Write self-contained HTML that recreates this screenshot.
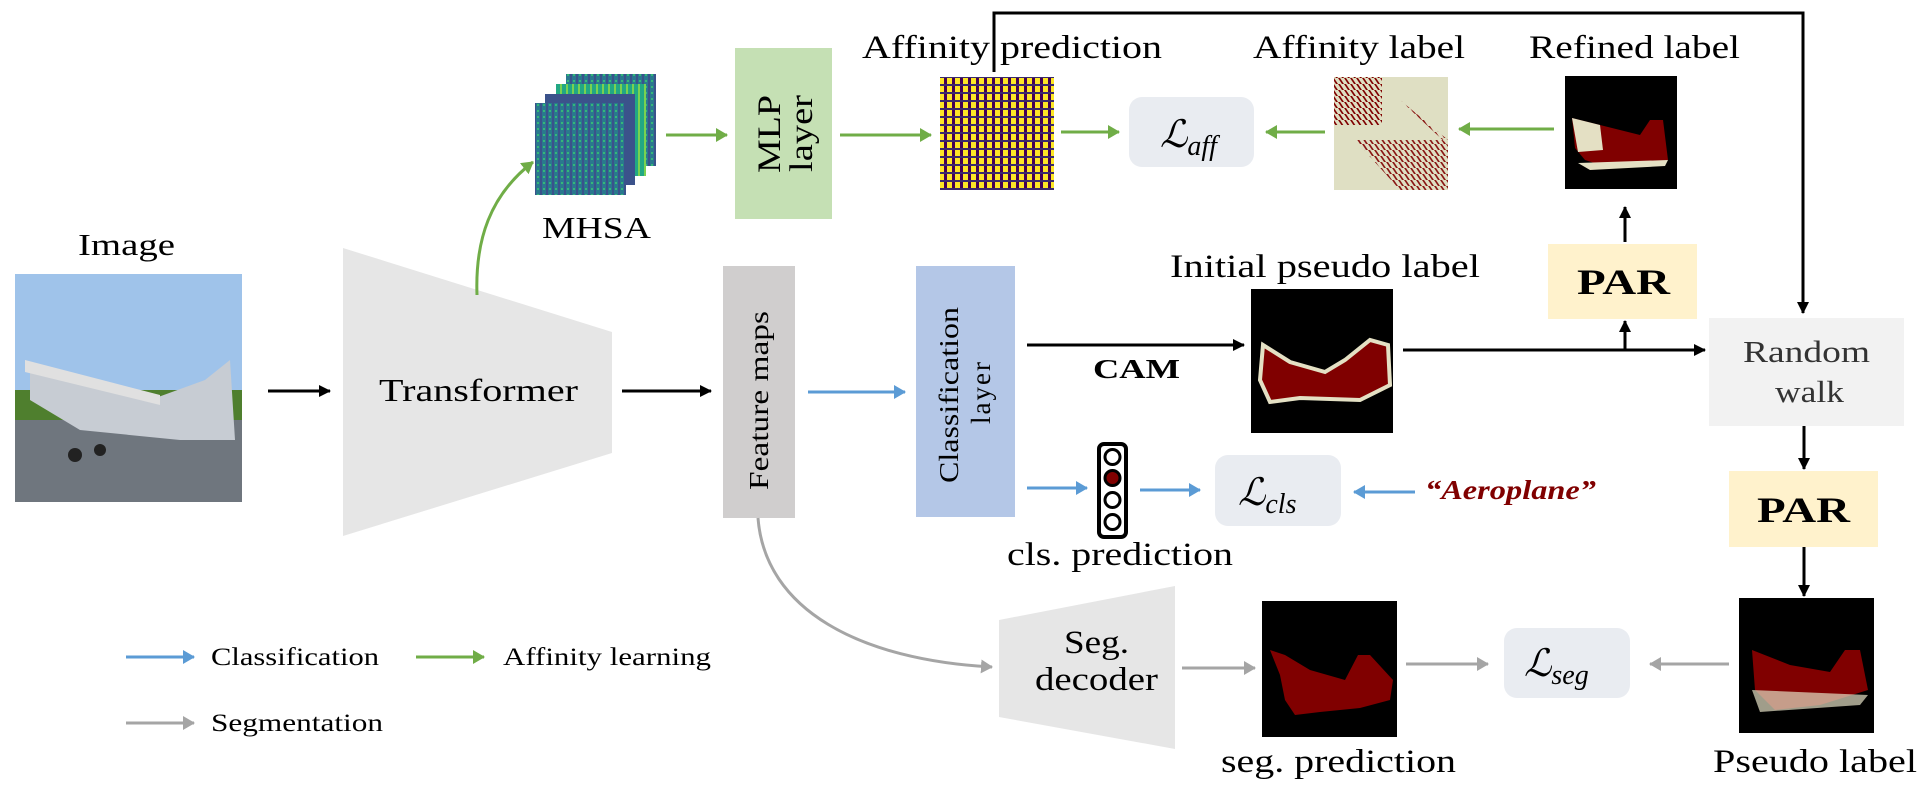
<!DOCTYPE html>
<html><head><meta charset="utf-8"><style>
html,body{margin:0;padding:0;background:#fff;}
svg{display:block;}
text{font-family:"Liberation Serif",serif;fill:#000;}
</style></head><body>
<svg width="1928" height="801" viewBox="0 0 1928 801" xmlns="http://www.w3.org/2000/svg">
<defs>
<marker id="ak" markerWidth="12" markerHeight="12" refX="11" refY="6" orient="auto" markerUnits="userSpaceOnUse"><path d="M0,0 L12,6 L0,12 z" fill="#000"/></marker>
<marker id="ag" markerWidth="12" markerHeight="14" refX="11" refY="7" orient="auto" markerUnits="userSpaceOnUse"><path d="M0,0 L12,7 L0,14 z" fill="#70ad47"/></marker>
<marker id="ab" markerWidth="12" markerHeight="14" refX="11" refY="7" orient="auto" markerUnits="userSpaceOnUse"><path d="M0,0 L12,7 L0,14 z" fill="#5b9bd5"/></marker>
<marker id="ay" markerWidth="12" markerHeight="14" refX="11" refY="7" orient="auto" markerUnits="userSpaceOnUse"><path d="M0,0 L12,7 L0,14 z" fill="#a5a5a5"/></marker>
<pattern id="vir" width="6" height="6" patternUnits="userSpaceOnUse"><rect width="6" height="6" fill="#2a788e"/><rect x="0" width="2" height="6" fill="#3b528b"/><rect x="3" y="2" width="2" height="2" fill="#35b779"/></pattern>
<pattern id="vir2" width="6" height="6" patternUnits="userSpaceOnUse"><rect width="6" height="6" fill="#22a884"/><rect x="2" width="2" height="6" fill="#7ad151"/></pattern>
<pattern id="aff" width="8" height="8" patternUnits="userSpaceOnUse"><rect width="8" height="8" fill="#fde725"/><rect width="3" height="8" fill="#440154"/><rect y="4" width="8" height="2" fill="#3b2a6b"/></pattern>
<pattern id="lab" width="6" height="6" patternUnits="userSpaceOnUse"><rect width="6" height="6" fill="#dfdfc3"/><path d="M0,0 L4,6 L6,6 L2,0z" fill="#800000"/></pattern>
</defs>

<!-- Image -->
<text x="78" y="255" font-size="31" textLength="97" lengthAdjust="spacingAndGlyphs">Image</text>
<rect x="15" y="274" width="227" height="228" fill="#9fc3ea"/>
<rect x="15" y="390" width="227" height="32" fill="#4f7f2e"/>
<rect x="15" y="420" width="227" height="82" fill="#6f767e"/>
<path d="M30,370 L150,400 L205,380 L230,360 L235,440 L180,440 L80,430 L30,400z" fill="#c7ccd3"/>
<path d="M25,360 L160,395 L160,405 L25,372z" fill="#e0e0e0"/>
<circle cx="75" cy="455" r="7" fill="#222"/><circle cx="100" cy="450" r="6" fill="#222"/>
<line x1="268" y1="391" x2="330" y2="391" stroke="#000" stroke-width="3" marker-end="url(#ak)"/>

<!-- Transformer -->
<polygon points="343,248 612,332 612,453 343,536" fill="#e6e6e6"/>
<text x="379" y="401" font-size="32" textLength="199" lengthAdjust="spacingAndGlyphs">Transformer</text>
<path d="M477,295 C475,240 490,195 533,162" fill="none" stroke="#70ad47" stroke-width="3" marker-end="url(#ag)"/>
<line x1="622" y1="391" x2="711" y2="391" stroke="#000" stroke-width="3" marker-end="url(#ak)"/>

<!-- MHSA -->
<rect x="566" y="74" width="90" height="92" fill="url(#vir)"/>
<rect x="556" y="84" width="90" height="92" fill="url(#vir2)"/>
<rect x="545" y="94" width="90" height="91" fill="#3b528b"/>
<rect x="535" y="103" width="91" height="92" fill="url(#vir)"/>
<text x="542" y="238" font-size="31" textLength="109" lengthAdjust="spacingAndGlyphs">MHSA</text>
<line x1="666" y1="135" x2="727" y2="135" stroke="#70ad47" stroke-width="3" marker-end="url(#ag)"/>

<!-- MLP -->
<rect x="735" y="48" width="97" height="171" fill="#c5e0b4"/>
<text transform="translate(780,173) rotate(-90)" font-size="33" textLength="78" lengthAdjust="spacingAndGlyphs">MLP</text>
<text transform="translate(812,172) rotate(-90)" font-size="33" textLength="77" lengthAdjust="spacingAndGlyphs">layer</text>
<line x1="840" y1="135" x2="931" y2="135" stroke="#70ad47" stroke-width="3" marker-end="url(#ag)"/>

<!-- Affinity prediction -->
<text x="862" y="58" font-size="33" textLength="300" lengthAdjust="spacingAndGlyphs">Affinity prediction</text>
<rect x="940" y="77" width="114" height="113" fill="url(#aff)"/>
<polyline points="994,72 994,13 1803,13 1803,313" fill="none" stroke="#000" stroke-width="3" marker-end="url(#ak)"/>
<line x1="1061" y1="132" x2="1119" y2="132" stroke="#70ad47" stroke-width="3" marker-end="url(#ag)"/>
<rect x="1129" y="97" width="125" height="70" rx="13" fill="#e9ecf1"/>
<text x="1160" y="147" font-size="38" font-style="italic">ℒ<tspan font-size="28" dy="8">aff</tspan></text>
<line x1="1325" y1="132" x2="1266" y2="132" stroke="#70ad47" stroke-width="3" marker-end="url(#ag)"/>

<!-- Affinity label -->
<text x="1253" y="58" font-size="33" textLength="212" lengthAdjust="spacingAndGlyphs">Affinity label</text>
<rect x="1334" y="77" width="114" height="113" fill="#dfdfc3"/>
<rect x="1334" y="77" width="48" height="48" fill="url(#lab)"/>
<polygon points="1400,100 1448,145 1448,190 1400,190 1355,140 1448,140" fill="url(#lab)" opacity="0.9"/>
<line x1="1554" y1="129" x2="1459" y2="129" stroke="#70ad47" stroke-width="3" marker-end="url(#ag)"/>

<!-- Refined label -->
<text x="1529" y="58" font-size="33" textLength="211" lengthAdjust="spacingAndGlyphs">Refined label</text>
<rect x="1565" y="76" width="112" height="113" fill="#000"/>
<path d="M1572,118 L1600,125 L1640,135 L1650,120 L1663,120 L1668,160 L1610,168 L1585,160 L1575,148z" fill="#800000"/>
<path d="M1572,118 L1600,125 L1603,150 L1578,152z" fill="#e4e0c4"/>
<path d="M1578,163 L1668,160 L1665,166 L1590,170z" fill="#e4e0c4"/>
<line x1="1625" y1="242" x2="1625" y2="207" stroke="#000" stroke-width="3" marker-end="url(#ak)"/>
<rect x="1548" y="244" width="149" height="75" fill="#fff2cc"/>
<text x="1577" y="294" font-size="36" font-weight="bold" textLength="93" lengthAdjust="spacingAndGlyphs">PAR</text>
<line x1="1625" y1="350" x2="1625" y2="321" stroke="#000" stroke-width="3" marker-end="url(#ak)"/>

<!-- Random walk -->
<rect x="1709" y="318" width="195" height="108" fill="#f2f2f2"/>
<text x="1743" y="362" font-size="31" textLength="127" lengthAdjust="spacingAndGlyphs" style="fill:#333">Random</text>
<text x="1775" y="402" font-size="31" textLength="69" lengthAdjust="spacingAndGlyphs" style="fill:#333">walk</text>
<line x1="1403" y1="350" x2="1705" y2="350" stroke="#000" stroke-width="3" marker-end="url(#ak)"/>

<!-- Initial pseudo label -->
<text x="1170" y="277" font-size="33" textLength="310" lengthAdjust="spacingAndGlyphs">Initial pseudo label</text>
<rect x="1251" y="289" width="142" height="144" fill="#000"/>
<path d="M1263,345 L1290,362 L1325,372 L1345,360 L1370,340 L1388,345 L1390,385 L1360,400 L1300,398 L1270,402 L1260,380z" fill="#800000" stroke="#e4e0c4" stroke-width="4"/>
<line x1="1027" y1="345" x2="1244" y2="345" stroke="#000" stroke-width="3" marker-end="url(#ak)"/>
<text x="1093" y="378" font-size="27" font-weight="bold" textLength="87" lengthAdjust="spacingAndGlyphs">CAM</text>

<!-- Feature maps -->
<rect x="723" y="266" width="72" height="252" fill="#d0cece"/>
<text transform="translate(768,490) rotate(-90)" font-size="27" textLength="179" lengthAdjust="spacingAndGlyphs">Feature maps</text>
<line x1="808" y1="392" x2="905" y2="392" stroke="#5b9bd5" stroke-width="3" marker-end="url(#ab)"/>

<!-- Classification layer -->
<rect x="916" y="266" width="99" height="251" fill="#b4c7e7"/>
<text transform="translate(958,483) rotate(-90)" font-size="27" textLength="176" lengthAdjust="spacingAndGlyphs">Classification</text>
<text transform="translate(990,392) rotate(-90)" font-size="27" text-anchor="middle" letter-spacing="2">layer</text>

<!-- cls prediction -->
<line x1="1027" y1="488" x2="1087" y2="488" stroke="#5b9bd5" stroke-width="3" marker-end="url(#ab)"/>
<rect x="1099" y="444" width="27" height="93" rx="5" fill="#fff" stroke="#000" stroke-width="4"/>
<circle cx="1112.5" cy="457" r="7.5" fill="#fff" stroke="#000" stroke-width="3"/>
<circle cx="1112.5" cy="478" r="7.5" fill="#800000" stroke="#000" stroke-width="3"/>
<circle cx="1112.5" cy="500" r="7.5" fill="#fff" stroke="#000" stroke-width="3"/>
<circle cx="1112.5" cy="522" r="7.5" fill="#fff" stroke="#000" stroke-width="3"/>
<line x1="1140" y1="490" x2="1200" y2="490" stroke="#5b9bd5" stroke-width="3" marker-end="url(#ab)"/>
<rect x="1215" y="455" width="126" height="71" rx="13" fill="#e9ecf1"/>
<text x="1238" y="505" font-size="38" font-style="italic">ℒ<tspan font-size="28" dy="8">cls</tspan></text>
<line x1="1415" y1="492" x2="1354" y2="492" stroke="#5b9bd5" stroke-width="3" marker-end="url(#ab)"/>
<text x="1425" y="499" font-size="27" font-weight="bold" font-style="italic" textLength="171" lengthAdjust="spacingAndGlyphs" style="fill:#800000">“Aeroplane”</text>
<text x="1007" y="565" font-size="33" textLength="226" lengthAdjust="spacingAndGlyphs">cls. prediction</text>

<!-- right column -->
<line x1="1804" y1="426" x2="1804" y2="469" stroke="#000" stroke-width="3" marker-end="url(#ak)"/>
<rect x="1729" y="471" width="149" height="76" fill="#fff2cc"/>
<text x="1757" y="522" font-size="36" font-weight="bold" textLength="93" lengthAdjust="spacingAndGlyphs">PAR</text>
<line x1="1804" y1="547" x2="1804" y2="596" stroke="#000" stroke-width="3" marker-end="url(#ak)"/>
<rect x="1739" y="598" width="135" height="135" fill="#000"/>
<path d="M1752,650 L1790,665 L1830,672 L1845,650 L1860,650 L1868,690 L1820,705 L1775,710 L1755,690z" fill="#800000"/>
<path d="M1752,690 L1868,695 L1860,705 L1760,712z" fill="#e4e0c4" opacity="0.7"/>
<text x="1713" y="772" font-size="33" textLength="204" lengthAdjust="spacingAndGlyphs">Pseudo label</text>
<line x1="1729" y1="664" x2="1650" y2="664" stroke="#a5a5a5" stroke-width="3" marker-end="url(#ay)"/>

<!-- L_seg -->
<rect x="1504" y="628" width="126" height="70" rx="13" fill="#e9ecf1"/>
<text x="1524" y="676" font-size="38" font-style="italic">ℒ<tspan font-size="28" dy="8">seg</tspan></text>
<line x1="1406" y1="664" x2="1488" y2="664" stroke="#a5a5a5" stroke-width="3" marker-end="url(#ay)"/>

<!-- seg prediction -->
<rect x="1262" y="601" width="135" height="136" fill="#000"/>
<path d="M1270,650 L1285,655 L1310,670 L1345,680 L1358,655 L1370,655 L1393,680 L1390,700 L1360,708 L1320,712 L1295,715 L1285,700 L1280,675z" fill="#800000"/>
<text x="1221" y="772" font-size="33" textLength="235" lengthAdjust="spacingAndGlyphs">seg. prediction</text>
<line x1="1182" y1="668" x2="1255" y2="668" stroke="#a5a5a5" stroke-width="3" marker-end="url(#ay)"/>

<!-- Seg decoder -->
<polygon points="999,620 1175,586 1175,749 999,717" fill="#e6e6e6"/>
<text x="1064" y="653" font-size="33" textLength="65" lengthAdjust="spacingAndGlyphs">Seg.</text>
<text x="1035" y="690" font-size="33" textLength="123" lengthAdjust="spacingAndGlyphs">decoder</text>
<path d="M758,518 C765,610 860,660 992,667" fill="none" stroke="#a5a5a5" stroke-width="3" marker-end="url(#ay)"/>

<!-- Legend -->
<line x1="126" y1="657" x2="194" y2="657" stroke="#5b9bd5" stroke-width="3" marker-end="url(#ab)"/>
<text x="211" y="665" font-size="25" textLength="168" lengthAdjust="spacingAndGlyphs">Classification</text>
<line x1="416" y1="657" x2="484" y2="657" stroke="#70ad47" stroke-width="3" marker-end="url(#ag)"/>
<text x="503" y="665" font-size="25" textLength="208" lengthAdjust="spacingAndGlyphs">Affinity learning</text>
<line x1="126" y1="723" x2="194" y2="723" stroke="#a5a5a5" stroke-width="3" marker-end="url(#ay)"/>
<text x="211" y="731" font-size="25" textLength="172" lengthAdjust="spacingAndGlyphs">Segmentation</text>
</svg>
</body></html>
